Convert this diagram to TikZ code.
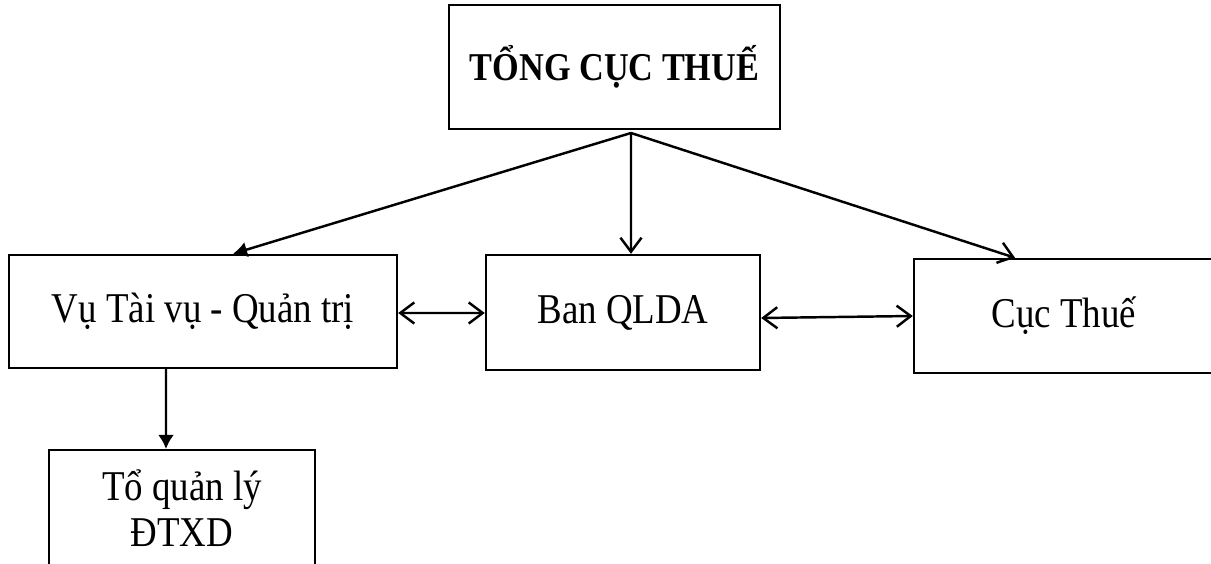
\documentclass[tikz,border=0pt]{standalone}
\usepackage{fontspec}
\setmainfont{Liberation Serif}
\usetikzlibrary{arrows.meta,positioning}
\newcommand{\tallt}[1]{\scalebox{1}[1.15]{#1}}

\begin{document}
\begin{tikzpicture}[x=0.02cm,y=-0.02cm,
  box/.style={draw,line width=1.4pt,inner sep=0pt,font=\fontsize{21}{25}\selectfont},
  opentip/.style={line width=1.4pt,-{Straight Barb[length=8pt,width=12pt,line width=1.4pt]}},
  bothtip/.style={line width=1.4pt,{Straight Barb[length=8pt,width=12pt,line width=1.4pt]}-{Straight Barb[length=8pt,width=12pt,line width=1.4pt]}},
  filltip/.style={line width=1.4pt,-{Latex[length=8pt,width=9pt]}}]
\useasboundingbox (0,0) rectangle (1211,564);
\clip (0,0) rectangle (1211,564);
% boxes
\node[box,minimum width=6.62cm,minimum height=2.48cm,font=\fontsize{19.5}{23}\selectfont\bfseries] (tct) at (614.5,67) {\tallt{TỔNG CỤC THUẾ}};
\node[box,minimum width=7.76cm,minimum height=2.26cm] (tv) at (203,311.5) {\tallt{Vụ Tài vụ - Quản trị}};
\node[box,minimum width=5.48cm,minimum height=2.3cm] (ban) at (623,312.5) {\tallt{Ban QLDA}};
\node[box,minimum width=6.0cm,minimum height=2.28cm] (cuc) at (1064,316) {\tallt{Cục Thuế}};
\node[box,anchor=north,minimum width=5.32cm,minimum height=3cm] (tql) at (182,449) {};
\node[align=center,font=\fontsize{21}{26}\selectfont,below=0.3cm of tql.north] (tqltxt) {\tallt{Tổ quản lý}\\\tallt{ĐTXD}};
\coordinate (split) at (631,133);
% arrows
\draw[filltip] (split) -- ([xshift=0.6cm]tv.north);
\draw[opentip] (split) -- ([xshift=0.16cm]ban.north);
\draw[opentip] (split) -- ([xshift=-0.98cm]cuc.north);
\draw[bothtip] ([yshift=-0.03cm]tv.east) -- ([yshift=-0.01cm]ban.west);
\draw[bothtip] ([yshift=-0.11cm]ban.east) -- (cuc.west);
\draw[filltip] ([xshift=-0.74cm]tv.south) -- ([xshift=-0.32cm]tql.north);
\end{tikzpicture}
\end{document}
